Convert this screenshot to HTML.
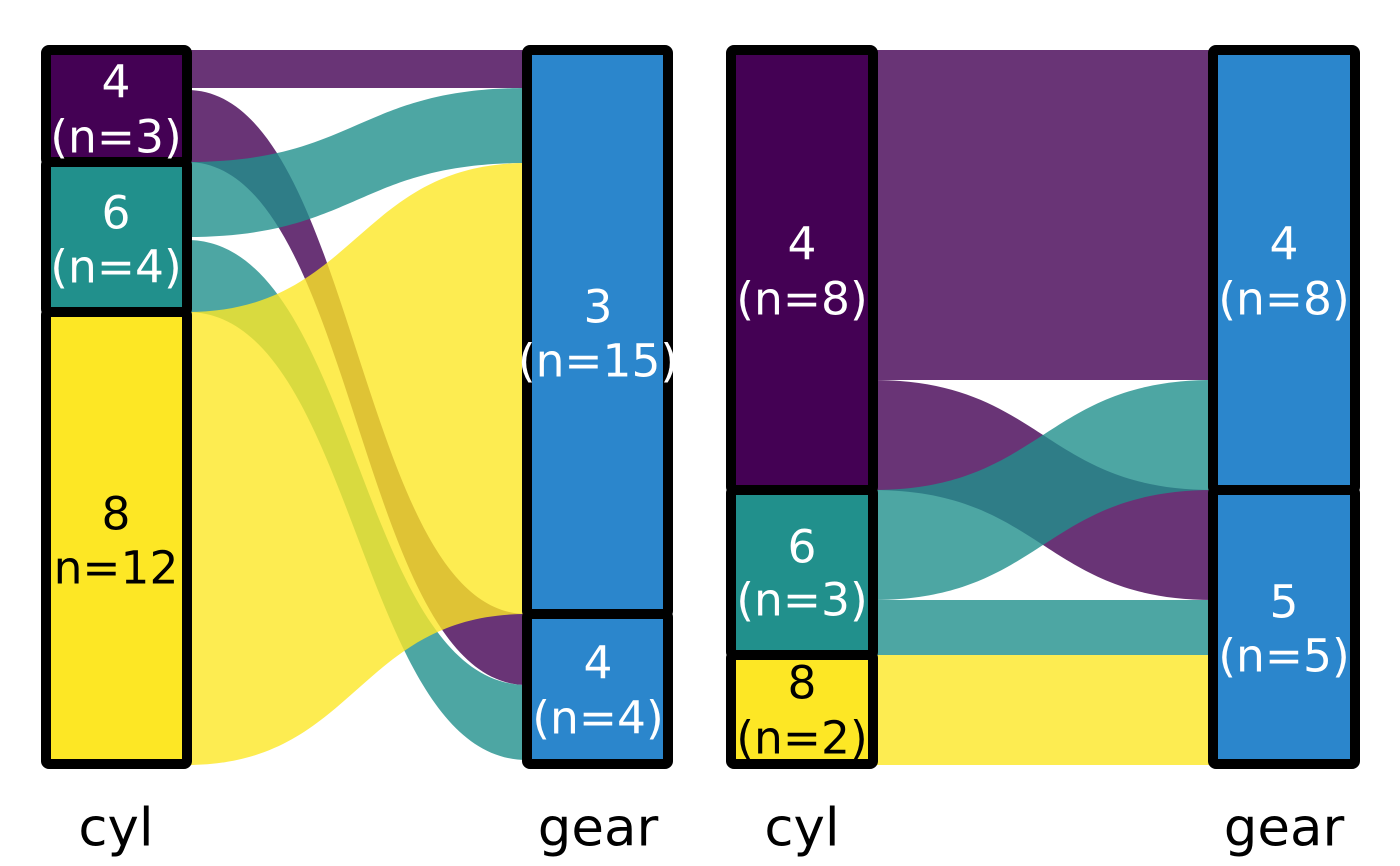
<!DOCTYPE html>
<html><head><meta charset="utf-8"><style>
html,body{margin:0;padding:0;background:#fff;}
svg{display:block;}
text{font-family:"DejaVu Sans","Liberation Sans",sans-serif;text-anchor:middle;dominant-baseline:central;}
</style></head><body>
<svg width="1400" height="866" viewBox="0 0 1400 866" xmlns="http://www.w3.org/2000/svg">
<g>
<!-- left panel ribbons -->
<path opacity="0.8" d="M187,50 C357,50 357,50 527,50 L527,88 C357,88 357,88 187,88 Z" fill="#440154"/>
<path opacity="0.8" d="M187,90 C357,90 357,614 527,614 L527,685 C357,685 357,162 187,162 Z" fill="#440154"/>
<path opacity="0.8" d="M187,162 C357,162 357,88 527,88 L527,163 C357,163 357,237 187,237 Z" fill="#21908C"/>
<path opacity="0.8" d="M187,240 C357,240 357,685 527,685 L527,760 C357,760 357,312 187,312 Z" fill="#21908C"/>
<path opacity="0.8" d="M187,312 C357,312 357,163 527,163 L527,614 C357,614 357,765 187,765 Z" fill="#FDE725"/>
<!-- right panel ribbons -->
<path opacity="0.8" d="M873,50 L1213,50 L1213,380 L873,380 Z" fill="#440154"/>
<path opacity="0.8" d="M873,380 C1043,380 1043,490 1213,490 L1213,600 C1043,600 1043,490 873,490 Z" fill="#440154"/>
<path opacity="0.8" d="M873,490 C1043,490 1043,380 1213,380 L1213,490 C1043,490 1043,600 873,600 Z" fill="#21908C"/>
<path opacity="0.8" d="M873,600 L1213,600 L1213,655 L873,655 Z" fill="#21908C"/>
<path opacity="0.8" d="M873,655 L1213,655 L1213,765 L873,765 Z" fill="#FDE725"/>
</g>
<g stroke="#000" stroke-width="10" stroke-linejoin="round">
<rect x="46" y="50" width="141" height="112" fill="#440154" rx="3"/>
<rect x="46" y="162" width="141" height="150" fill="#21908C" rx="3"/>
<rect x="46" y="312" width="141" height="452" fill="#FDE725" rx="3"/>
<rect x="527" y="50" width="141" height="564" fill="#2B86CC" rx="3"/>
<rect x="527" y="614" width="141" height="150" fill="#2B86CC" rx="3"/>
<rect x="731" y="50" width="142" height="440" fill="#440154" rx="3"/>
<rect x="731" y="490" width="142" height="165" fill="#21908C" rx="3"/>
<rect x="731" y="655" width="142" height="109" fill="#FDE725" rx="3"/>
<rect x="1213" y="50" width="142" height="440" fill="#2B86CC" rx="3"/>
<rect x="1213" y="490" width="142" height="274" fill="#2B86CC" rx="3"/>
</g>
<g font-size="45.5" fill="#fff">
<text x="116" y="82">4</text><text x="116" y="137">(n=3)</text>
<text x="116" y="213">6</text><text x="116" y="267">(n=4)</text>
<text x="116" y="514" fill="#000">8</text><text x="116" y="568" fill="#000">n=12</text>
<text x="598" y="307">3</text><text x="598" y="361">(n=15)</text>
<text x="598" y="663">4</text><text x="598" y="718">(n=4)</text>
<text x="802" y="244">4</text><text x="802" y="299">(n=8)</text>
<text x="802" y="547">6</text><text x="802" y="600">(n=3)</text>
<text x="802" y="683" fill="#000">8</text><text x="802" y="738" fill="#000">(n=2)</text>
<text x="1284" y="244">4</text><text x="1284" y="299">(n=8)</text>
<text x="1284" y="602">5</text><text x="1284" y="656">(n=5)</text>
</g>
<g font-size="53" fill="#000">
<text x="116" y="828">cyl</text>
<text x="598" y="828">gear</text>
<text x="802" y="828">cyl</text>
<text x="1284" y="828">gear</text>
</g>
</svg>
</body></html>
